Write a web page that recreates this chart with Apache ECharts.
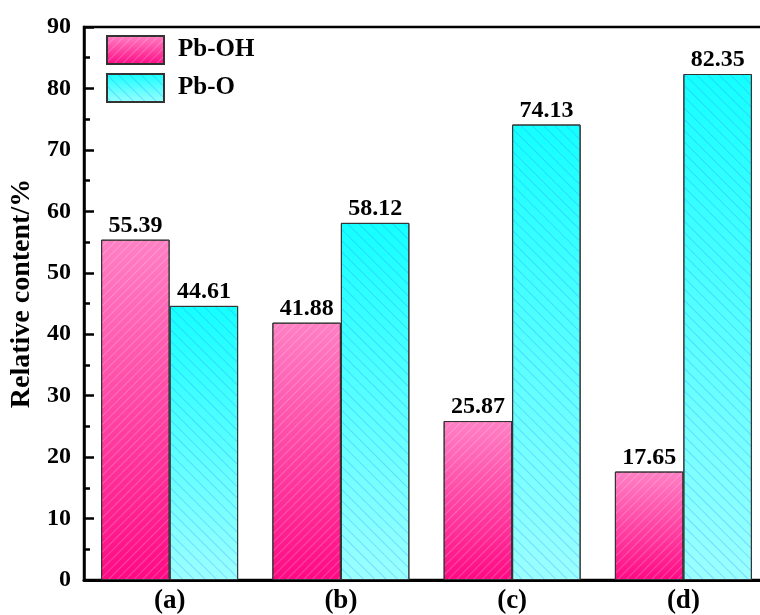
<!DOCTYPE html>
<html>
<head>
<meta charset="utf-8">
<script src="https://cdn.jsdelivr.net/npm/echarts@6/dist/echarts.min.js"></script>
<style>
  html, body { margin: 0; padding: 0; background: #fff; }
  #chart { width: 760px; height: 615px; }
</style>
</head>
<body>
<div id="chart"></div>
<script>
// Samples and relative content of each lead species (%)
const categories = ['(a)', '(b)', '(c)', '(d)'];
const pbOH = [55.39, 41.88, 25.87, 17.65];
const pbO = [44.61, 58.12, 74.13, 82.35];
const yTicks = [0, 10, 20, 30, 40, 50, 60, 70, 80, 90];

const FONT = '"Liberation Serif", "Times New Roman", serif';

const pinkFill = new echarts.graphic.LinearGradient(0, 0, 0, 1, [
  { offset: 0, color: '#ff80c4' },
  { offset: 1, color: '#ff0a84' }
]);
const cyanFill = new echarts.graphic.LinearGradient(0, 0, 0, 1, [
  { offset: 0, color: '#14ffff' },
  { offset: 1, color: '#9cffff' }
]);

const valueLabel = {
  show: true,
  position: 'top',
  distance: 2,
  color: '#000',
  fontFamily: FONT,
  fontWeight: 'bold',
  fontSize: 24,
  formatter: p => p.value.toFixed(2)
};

const chart = echarts.init(document.getElementById('chart'), null, { renderer: 'canvas' });
chart.setOption({
  animation: false,
  backgroundColor: '#fff',
  grid: {
    left: 84, top: 27, width: 685, bottom: 35,
    outerBoundsMode: 'none',
    containLabel: false,
    show: true, borderColor: '#000', borderWidth: 2.5, backgroundColor: 'transparent'
  },
  legend: {
    orient: 'vertical',
    left: 106, top: 35,
    padding: 0,
    itemWidth: 57, itemHeight: 28, itemGap: 8,
    icon: 'rect',
    textStyle: { fontFamily: FONT, fontWeight: 'bold', fontSize: 25, lineHeight: 28, color: '#000', padding: [0, 0, 0, 9] },
    data: ['Pb-OH', 'Pb-O']
  },
  xAxis: {
    type: 'category',
    data: categories,
    axisLine: { lineStyle: { color: '#000', width: 3 } },
    axisTick: { show: false },
    axisLabel: { fontFamily: FONT, fontWeight: 'bold', fontSize: 27, color: '#000', margin: 8 }
  },
  yAxis: {
    type: 'value',
    min: yTicks[0], max: yTicks[yTicks.length - 1], interval: 10,
    name: 'Relative content/%',
    nameLocation: 'middle',
    nameGap: 46,
    nameTextStyle: { fontFamily: FONT, fontWeight: 'bold', fontSize: 28, color: '#000', padding: [0, 0, 0, 20] },
    axisLine: { show: true, lineStyle: { color: '#000', width: 2.5 } },
    axisTick: { show: true, inside: true, length: 10, lineStyle: { color: '#000', width: 2.5 } },
    minorTick: { show: true, splitNumber: 2, length: 6, lineStyle: { color: '#000', width: 2.5 } },
    splitLine: { show: false },
    axisLabel: { fontFamily: FONT, fontWeight: 'bold', fontSize: 24, color: '#000', margin: 13 }
  },
  series: [
    {
      name: 'Pb-OH',
      type: 'bar',
      data: pbOH,
      barGap: '0%',
      barCategoryGap: '20%',
      itemStyle: {
        color: pinkFill,
        borderColor: '#333',
        borderWidth: 1,
        decal: {
          symbol: 'rect',
          symbolSize: 1,
          dashArrayX: [[10, 0]],
          dashArrayY: [1, 5],
          rotation: -Math.PI / 4,
          color: 'rgba(255,255,255,0.22)'
        }
      },
      label: valueLabel
    },
    {
      name: 'Pb-O',
      type: 'bar',
      data: pbO,
      barGap: '0%',
      barCategoryGap: '20%',
      itemStyle: {
        color: cyanFill,
        borderColor: '#333',
        borderWidth: 1,
        decal: {
          symbol: 'rect',
          symbolSize: 1,
          dashArrayX: [[10, 0]],
          dashArrayY: [1, 7],
          rotation: Math.PI / 4,
          color: 'rgba(40,140,255,0.3)'
        }
      },
      label: valueLabel
    }
  ]
});
</script>
</body>
</html>
